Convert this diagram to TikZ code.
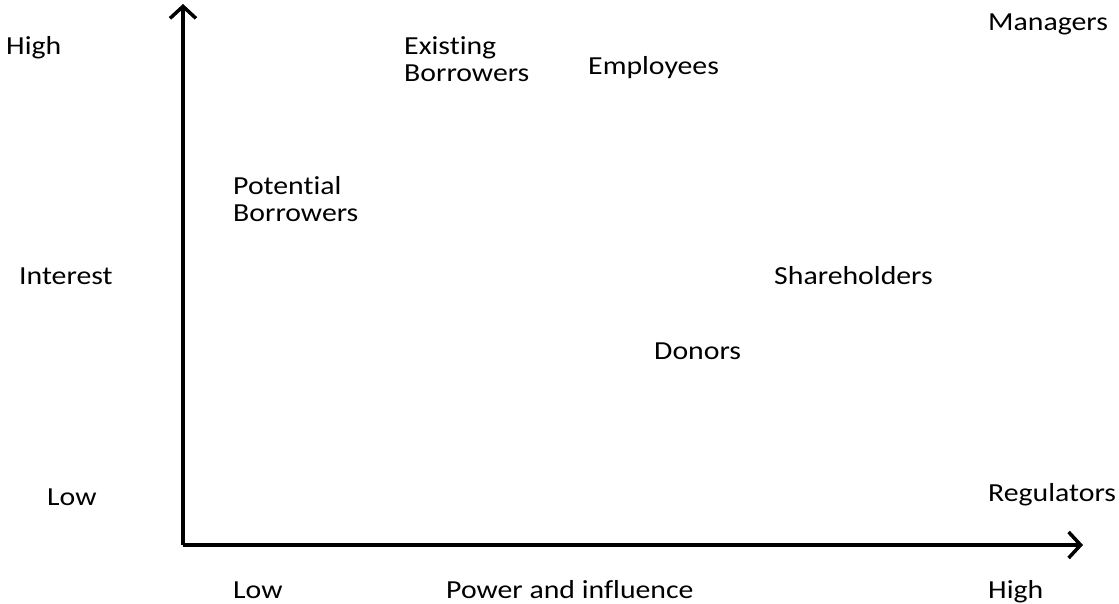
\documentclass[tikz,border=0pt]{standalone}
\usepackage{fontspec}
\setmainfont{Carlito}[Ligatures=NoCommon]
\usetikzlibrary{arrows.meta}

\begin{document}
\begin{tikzpicture}[x=1pt, y=-1pt,
    lbl/.style={anchor=base west, inner sep=0pt, align=left,
                font=\fontsize{26}{27}\selectfont, xscale=1.145, transform shape},
    axis/.style={line width=4pt, -{Straight Barb[length=12pt, width=26pt, line width=3.5pt]}}]
    \useasboundingbox (0,0) rectangle (1119,604);
    % axes
    \coordinate (o) at (183,545);
    \coordinate (ytop) at (183,4);
    \coordinate (xend) at (1083,545);
    \draw[axis] (o) -- (ytop);
    \draw[axis] (o) -- (xend);
    % axis labels
    \node[lbl] (yhigh) at (6,55) {High};
    \node[lbl] (ymid) at (19,284) {Interest};
    \node[lbl] (ylow) at (47,505) {Low};
    \node[lbl] (xlow) at (233,598) {Low};
    \node[lbl] (xmid) at (446,598) {Power and influence};
    \node[lbl] (xhigh) at (988,598) {High};
    % stakeholders (base = last line)
    \node[lbl] (mgr) at (988,31) {Managers};
    \node[lbl] (exist) at (404,82) {Existing\\Borrowers};
    \node[lbl] (empl) at (588,75) {Employees};
    \node[lbl] (pot) at (233,222) {Potential\\Borrowers};
    \node[lbl] (share) at (774,284) {Shareholders};
    \node[lbl] (donor) at (654,359) {Donors};
    \node[lbl] (reg) at (988,501) {Regulators};
\end{tikzpicture}
\end{document}
